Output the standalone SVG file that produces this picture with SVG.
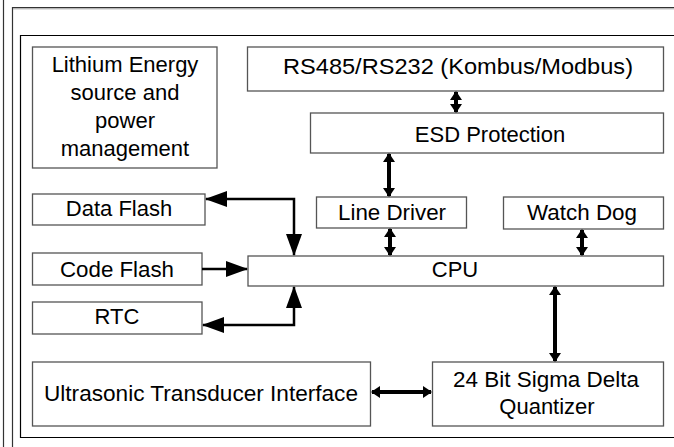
<svg xmlns="http://www.w3.org/2000/svg" width="674" height="447" viewBox="0 0 674 447">
<defs>
<style>
.box{fill:#fff;stroke:#555;stroke-width:1.3}
.t{font-family:"Liberation Sans",Arial,sans-serif;font-size:22px;fill:#000;text-anchor:middle}
.big{fill:none;stroke:#000;stroke-width:2.5;marker-start:url(#hb);marker-end:url(#hb)}
.one{fill:none;stroke:#000;stroke-width:2.5;marker-end:url(#hb)}
.sm{fill:none;stroke:#000;stroke-width:4;marker-start:url(#hs);marker-end:url(#hs)}
</style>
<marker id="hb" viewBox="0 0 22 16" refX="21" refY="8" markerWidth="22" markerHeight="16" markerUnits="userSpaceOnUse" orient="auto-start-reverse"><path d="M0,0 L22,8 L0,16 z" fill="#000"/></marker>
<marker id="hs" viewBox="0 0 9 12" refX="8" refY="6" markerWidth="9" markerHeight="12" markerUnits="userSpaceOnUse" orient="auto-start-reverse"><path d="M0,0 L9,6 L0,12 z" fill="#000"/></marker>
</defs>
<rect width="674" height="447" fill="#fff"/>
<g id="frame" fill="none">
<line x1="3.5" y1="0" x2="3.5" y2="447" stroke="#333" stroke-width="1.2"/>
<path d="M12.5,447 L12.5,7.5 L674,7.5" stroke="#333" stroke-width="1.2"/>
<line x1="13" y1="8.8" x2="674" y2="8.8" stroke="#999" stroke-width="1"/>
<path d="M674,35.5 L20.5,35.5 L20.5,437.5 L674,437.5" stroke="#000" stroke-width="1.2"/>
</g>
<g id="lithium"><rect class="box" x="32.5" y="47" width="184.5" height="121"/>
<text class="t" x="125" y="72">Lithium Energy</text><text class="t" x="125" y="100">source and</text><text class="t" x="125" y="128">power</text><text class="t" x="125" y="156">management</text></g>
<g id="rs485"><rect class="box" x="247.5" y="47" width="416" height="44"/><text class="t" x="458" y="74" textLength="350" lengthAdjust="spacingAndGlyphs">RS485/RS232 (Kombus/Modbus)</text></g>
<g id="esd"><rect class="box" x="310.5" y="113" width="353" height="40"/><text class="t" x="490" y="142">ESD Protection</text></g>
<g id="linedriver"><rect class="box" x="316.5" y="197" width="150" height="31"/><text class="t" x="392" y="220" textLength="108" lengthAdjust="spacingAndGlyphs">Line Driver</text></g>
<g id="watchdog"><rect class="box" x="503.5" y="197" width="160" height="32"/><text class="t" x="582" y="220" textLength="110" lengthAdjust="spacingAndGlyphs">Watch Dog</text></g>
<g id="cpu"><rect class="box" x="248" y="256" width="415.5" height="30"/><text class="t" x="455" y="277">CPU</text></g>
<g id="dataflash"><rect class="box" x="32.5" y="194" width="172.5" height="31"/><text class="t" x="119" y="216">Data Flash</text></g>
<g id="codeflash"><rect class="box" x="32.5" y="253" width="169.5" height="32"/><text class="t" x="117" y="277" textLength="114" lengthAdjust="spacingAndGlyphs">Code Flash</text></g>
<g id="rtc"><rect class="box" x="32.5" y="302" width="169.5" height="32"/><text class="t" x="117" y="324">RTC</text></g>
<g id="ultrasonic"><rect class="box" x="32.5" y="362" width="338" height="64"/><text class="t" x="201" y="401" textLength="314" lengthAdjust="spacingAndGlyphs">Ultrasonic Transducer Interface</text></g>
<g id="quantizer"><rect class="box" x="432.5" y="362" width="231" height="64"/><text class="t" x="546" y="387" textLength="186" lengthAdjust="spacingAndGlyphs">24 Bit Sigma Delta</text><text class="t" x="547" y="414">Quantizer</text></g>
<g id="connectors">
<path class="sm" d="M456,92 L456,112"/>
<path class="sm" d="M389,154 L389,196"/>
<path class="sm" d="M390,229 L390,255"/>
<path class="sm" d="M582,230 L582,255"/>
<path class="sm" d="M555,287 L555,361"/>
<path class="sm" d="M372,392 L431,392"/>
<path class="big" d="M294,255 L294,199 L206,199"/>
<path class="one" d="M202,269 L247,269"/>
<path class="big" d="M294,287 L294,325 L203,325"/>
</g>
</svg>
